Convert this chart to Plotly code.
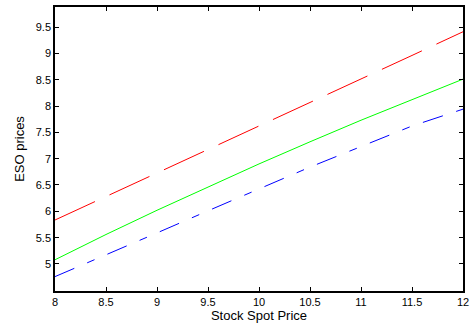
import plotly.graph_objects as go

# Stock spot price grid
spot = [8.0, 8.5, 9.0, 9.5, 10.0, 10.5, 11.0, 11.5, 12.0]

# ESO prices for the three cases
eso_red = [5.835, 6.28, 6.73, 7.17, 7.61, 8.06, 8.51, 8.96, 9.41]
eso_green = [5.08, 5.56, 6.02, 6.46, 6.90, 7.32, 7.73, 8.12, 8.51]
eso_blue = [4.76, 5.17, 5.59, 6.01, 6.43, 6.84, 7.23, 7.62, 7.94]

x_ticks = [8, 8.5, 9, 9.5, 10, 10.5, 11, 11.5, 12]
y_ticks = [5, 5.5, 6, 6.5, 7, 7.5, 8, 8.5, 9, 9.5]

fig = go.Figure()
fig.add_trace(go.Scatter(x=spot, y=eso_red, mode="lines",
                         line=dict(color="#ff0000", width=1, dash="44px,16px")))
fig.add_trace(go.Scatter(x=spot, y=eso_green, mode="lines",
                         line=dict(color="#00ff00", width=1)))
fig.add_trace(go.Scatter(x=spot, y=eso_blue, mode="lines",
                         line=dict(color="#0000ff", width=1, dash="21px,14px,8px,14px")))

axis_common = dict(
    showgrid=False, zeroline=False, showline=True, linecolor="black",
    linewidth=1.5, mirror="ticks", ticks="inside", ticklen=4,
    tickcolor="black", tickwidth=1, automargin=False,
    tickfont=dict(family="Liberation Sans, Arial, sans-serif", size=11, color="black"),
)

fig.update_xaxes(range=[8, 12], tickvals=x_ticks,
                 ticktext=[f"{v:g}" for v in x_ticks],
                 title=dict(text="Stock Spot Price", standoff=4,
                            font=dict(family="Liberation Sans, Arial, sans-serif",
                                      size=13, color="black")),
                 **axis_common)
fig.update_yaxes(range=[4.487, 9.88], tickvals=y_ticks,
                 ticktext=[f"{v:g}" for v in y_ticks],
                 title=dict(text="ESO prices", standoff=8,
                            font=dict(family="Liberation Sans, Arial, sans-serif",
                                      size=13, color="black")),
                 **axis_common)

fig.update_layout(
    width=470, height=329,
    margin=dict(l=55, r=7, t=7, b=38),
    paper_bgcolor="white", plot_bgcolor="white",
    showlegend=False,
)

fig.write_html("out.html")
